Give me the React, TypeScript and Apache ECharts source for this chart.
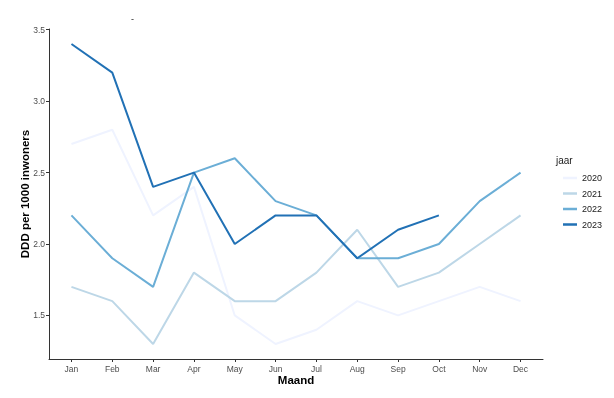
import React, { useEffect, useRef } from "react";
import * as echarts from "echarts";

const months = ["Jan", "Feb", "Mar", "Apr", "May", "Jun", "Jul", "Aug", "Sep", "Oct", "Nov", "Dec"];
const years = ["2020", "2021", "2022", "2023"];
const v2020 = [2.7, 2.8, 2.2, 2.4, 1.5, 1.3, 1.4, 1.6, 1.5, 1.6, 1.7, 1.6];
const v2021 = [1.7, 1.6, 1.3, 1.8, 1.6, 1.6, 1.8, 2.1, 1.7, 1.8, 2.0, 2.2];
const v2022 = [2.2, 1.9, 1.7, 2.5, 2.6, 2.3, 2.2, 1.9, 1.9, 2.0, 2.3, 2.5];
const v2023 = [3.4, 3.2, 2.4, 2.5, 2.0, 2.2, 2.2, 1.9, 2.1, 2.2];
const yTicks = [1.5, 2.0, 2.5, 3.0, 3.5];
const colors = ["#EFF3FF", "#BDD7E7", "#6BAED6", "#2171B5"];

export default function App() {
  const ref = useRef<HTMLDivElement>(null);
  useEffect(() => {
    if (!ref.current) return;
    const chart = echarts.init(ref.current, null, { renderer: "svg" });
    const all = [v2020, v2021, v2022, v2023];
    const font = "Liberation Sans, Arial, sans-serif";
    chart.setOption({
      animation: false,
      textStyle: { fontFamily: font },
      grid: { left: 49, right: 71, top: 29, bottom: 39 },
      xAxis: {
        type: "value",
        min: -0.55,
        max: 11.55,
        name: "Maand",
        nameLocation: "middle",
        nameGap: 15,
        nameMoveOverlap: false,
        nameTextStyle: { fontWeight: "bold", fontSize: 11.5, color: "#000" },
        axisLine: { show: true, onZero: false, lineStyle: { color: "#333", width: 1 } },
        axisTick: { show: true, customValues: months.map((_, i) => i), length: 3, lineStyle: { color: "#333" } },
        axisLabel: {
          customValues: months.map((_, i) => i),
          formatter: (v: number) => months[Math.round(v)] ?? "",
          fontSize: 8.5,
          color: "#4d4d4d",
          margin: 5,
        },
        splitLine: { show: false },
      },
      yAxis: {
        type: "value",
        min: 1.195,
        max: 3.505,
        name: "DDD per 1000 inwoners",
        nameLocation: "middle",
        nameGap: 18,
        nameMoveOverlap: false,
        nameRotate: 90,
        nameTextStyle: { fontWeight: "bold", fontSize: 11.5, color: "#000" },
        axisLine: { show: true, onZero: false, lineStyle: { color: "#333", width: 1 } },
        axisTick: { show: true, customValues: yTicks, length: 3, lineStyle: { color: "#333" } },
        axisLabel: {
          customValues: yTicks,
          formatter: (v: number) => v.toFixed(1),
          fontSize: 8.5,
          color: "#4d4d4d",
          margin: 4,
        },
        splitLine: { show: false },
      },
      legend: {
        orient: "vertical",
        left: 558,
        top: 167,
        icon: "rect",
        itemWidth: 14,
        itemHeight: 2.5,
        itemGap: 3.5,
        data: years,
        textStyle: { fontSize: 9, color: "#1a1a1a", lineHeight: 12, fontFamily: font },
      },
      graphic: [
        { type: "text", left: 556, top: 155, style: { text: "jaar", fontSize: 10, fill: "#1a1a1a", fontFamily: font } },
        { type: "text", left: 131, top: 14, style: { text: "-", fontSize: 9, fill: "#1a1a1a", fontFamily: font } },
      ],
      series: years.map((y, k) => ({
        name: y,
        type: "line",
        symbol: "none",
        data: all[k].map((v, i) => [i, v]),
        lineStyle: { color: colors[k], width: 2 },
        itemStyle: { color: colors[k] },
      })),
    });
    return () => chart.dispose();
  }, []);
  return <div ref={ref} style={{ position: "fixed", left: 0, top: 0, width: 614, height: 398 }} />;
}
